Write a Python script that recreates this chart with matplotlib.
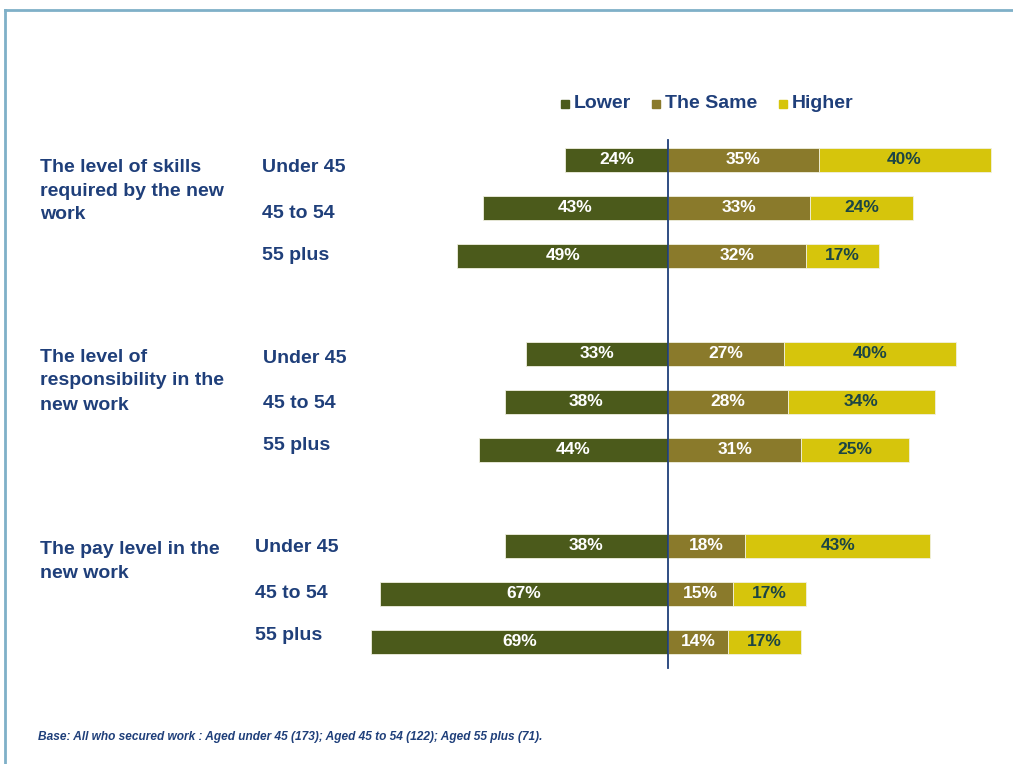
import matplotlib.pyplot as plt
from matplotlib.patches import Rectangle
from matplotlib.lines import Line2D

# Survey results: share of respondents by age group
groups = [
    "The level of skills\nrequired by the new\nwork",
    "The level of\nresponsibility in the\nnew work",
    "The pay level in the\nnew work",
]
ages = ["Under 45", "45 to 54", "55 plus"]
series = ["Lower", "The Same", "Higher"]

lower = [[24, 43, 49], [33, 38, 44], [38, 67, 69]]
same = [[35, 33, 32], [27, 28, 31], [18, 15, 14]]
higher = [[40, 24, 17], [40, 34, 25], [43, 17, 17]]

footnote = ("Base: All who secured work : Aged under 45 (173); "
            "Aged 45 to 54 (122); Aged 55 plus (71).")

colors = {"Lower": "#4b5a1b", "The Same": "#8a7a2b", "Higher": "#d6c50c"}
label_colors = {"Lower": "white", "The Same": "white", "Higher": "#1b4545"}
navy = "#1f3f7a"
font = "Liberation Sans"

W, H = 1013, 764
fig = plt.figure(figsize=(W / 100, H / 100), dpi=100)
ax = fig.add_axes([0, 0, 1, 1])
ppu = 4.3            # pixels per percentage point
x0 = 668             # pixel position of the zero line
ax.set_xlim(-x0 / ppu, (W - x0) / ppu)
ax.set_ylim(H, 0)
ax.axis("off")

# outer frame (top and left edges only)
fig.add_artist(Line2D([5 / W, 5 / W], [0, 1 - 10 / H], color="#7fb0c8", lw=2))
fig.add_artist(Line2D([5 / W, 1], [1 - 10 / H, 1 - 10 / H], color="#7fb0c8", lw=2))

bar_h = 24
group_top = [160, 354, 546]
row_gap = 48
age_x = [262, 263, 255]
age_y0 = [168, 358, 548]
age_dy = [0, 46, 88]
title_y = [167, 357, 549]

for g in range(3):
    for r in range(3):
        yc = group_top[g] + r * row_gap
        segs = [("Lower", -lower[g][r], lower[g][r]),
                ("The Same", 0, same[g][r]),
                ("Higher", same[g][r], higher[g][r])]
        for name, left, width in segs:
            ax.barh(yc, width, left=left, height=bar_h, color=colors[name],
                    edgecolor="#f0f0e0", linewidth=0.6)
            ax.text(left + width / 2, yc, f"{width}%", ha="center", va="center",
                    color=label_colors[name], fontsize=12.5, fontweight="bold",
                    family=font)
        ax.text(age_x[g] / W, 1 - (age_y0[g] + age_dy[r]) / H, ages[r],
                transform=fig.transFigure, ha="left", va="center", color=navy,
                fontsize=14, fontweight="bold", family=font)
    for k, line in enumerate(groups[g].split("\n")):
        ax.text(40 / W, 1 - (title_y[g] + 24 * k) / H, line,
                transform=fig.transFigure, ha="left", va="center", color=navy,
                fontsize=14, fontweight="bold", family=font)

# zero line
ax.plot([0, 0], [140, 668], color=navy, lw=1.3)

# legend
leg_items = [("Lower", 565), ("The Same", 656), ("Higher", 783)]
for name, px in leg_items:
    fig.add_artist(Rectangle((px / W - 4 / W, 1 - 108 / H), 8 / W, 8 / H,
                             transform=fig.transFigure, color=colors[name]))
    fig.text((px + 9) / W, 1 - 104 / H, name, ha="left", va="center",
             color=navy, fontsize=14, fontweight="bold", family=font)

fig.text(38 / W, 1 - 737 / H, footnote, ha="left", va="center", color=navy,
         fontsize=8.6, fontweight="bold", fontstyle="italic", family=font)

fig.savefig("out.png", dpi=100, facecolor="white")
